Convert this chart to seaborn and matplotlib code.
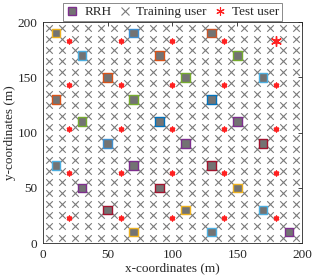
import numpy as np
import pandas as pd
import matplotlib
matplotlib.use('Agg')
import matplotlib.pyplot as plt
from matplotlib.lines import Line2D
import seaborn as sns

# RRH positions (m) and edge colours
rrh_x = [10, 70, 130, 30, 90, 150, 50, 110, 170, 10, 70, 130, 30, 90, 150,
         50, 110, 170, 10, 70, 130, 30, 90, 150, 50, 110, 170, 70, 130, 190]
rrh_y = [190, 190, 190, 170, 170, 170, 150, 150, 150, 130, 130, 130, 110, 110, 110,
         90, 90, 90, 70, 70, 70, 50, 50, 50, 30, 30, 30, 10, 10, 10]
rrh_cor = ['#EDB120', '#3F8FD0', '#C8552A', '#4DAEE0', '#D95319', '#77AC30',
           '#D95319', '#77AC30', '#4DAEE0', '#D95319', '#77AC30', '#0072BD',
           '#77AC30', '#0072BD', '#7E2F8E', '#3F8FD0', '#7E2F8E', '#A2142F',
           '#4DAEE0', '#7E2F8E', '#A2142F', '#7E2F8E', '#A2142F', '#EDB120',
           '#A2142F', '#EDB120', '#4DAEE0', '#EDB120', '#4DAEE0', '#7E2F8E']

# training users: regular grid
treino_x = [5, 15, 25, 35, 45, 55, 65, 75, 85, 95, 105, 115, 125, 135, 145,
            155, 165, 175, 185, 195]
treino_y = [5, 15, 25, 35, 45, 55, 65, 75, 85, 95, 105, 115, 125, 135, 145,
            155, 165, 175, 185, 195]

# test users
teste_x = [20, 60, 100, 140, 180]
teste_y = [183, 143, 103, 63, 23]
destaque = (180, 183)

gx, gy = np.meshgrid(treino_x, treino_y)
df_treino = pd.DataFrame({'x': gx.ravel(), 'y': gy.ravel()})
tx, ty = np.meshgrid(teste_x, teste_y)
df_teste = pd.DataFrame({'x': tx.ravel(), 'y': ty.ravel()})
df_rrh = pd.DataFrame({'x': rrh_x, 'y': rrh_y})

sns.set_theme(style='white')
plt.rcParams['font.family'] = ['Liberation Serif', 'DejaVu Serif']
plt.rcParams['font.size'] = 9.5

fig = plt.figure(figsize=(3.33, 2.8), dpi=100)
ax = fig.add_axes([0.129, 0.132, 0.778, 0.789])

sns.scatterplot(data=df_treino, x='x', y='y', marker='x', color='#7a7a7a',
                s=22, linewidth=0.8, ax=ax, zorder=2)
sns.scatterplot(data=df_teste, x='x', y='y', marker=(6, 2, 0), color='#ff2020',
                s=10, linewidth=1.2, ax=ax, zorder=3)
ax.scatter([destaque[0]], [destaque[1]], marker=(6, 2, 0), color='#ff2020',
           s=50, linewidth=1.0, zorder=4)
sns.scatterplot(data=df_rrh, x='x', y='y', marker='s', color='#737373',
                edgecolor=rrh_cor, s=38, linewidth=1.0, ax=ax, zorder=5)

ax.set_xlim(0, 200)
ax.set_ylim(0, 200)
ax.set_xticks([0, 50, 100, 150, 200])
ax.set_yticks([0, 50, 100, 150, 200])
ax.tick_params(direction='in', length=3, width=0.6, top=True, right=True,
               labelsize=9.5, pad=4, colors='#262626')
for s in ax.spines.values():
    s.set_linewidth(0.6)
    s.set_color('#262626')
ax.set_xlabel('x-coordinates (m)', fontsize=9.5, labelpad=1)
ax.set_ylabel('y-coordinates (m)', fontsize=9.5, labelpad=1)

handles = [
    Line2D([], [], marker='s', ls='', color='#737373', markeredgecolor='#7E2F8E',
           markersize=6, markeredgewidth=1.0, label='RRH'),
    Line2D([], [], marker='x', ls='', color='#7a7a7a', markersize=6,
           markeredgewidth=0.8, label='Training user'),
    Line2D([], [], marker=(6, 2, 0), ls='', color='#ff2020', markersize=6,
           markeredgewidth=0.8, label='Test user'),
]
leg = ax.legend(handles=handles, loc='lower center', bbox_to_anchor=(0.5, 1.0),
                ncol=3, fontsize=9.5, frameon=True, fancybox=False,
                handlelength=1.0, handletextpad=0.4, columnspacing=0.5,
                borderpad=0.2, borderaxespad=0.1)
leg.get_frame().set_edgecolor('#555555')
leg.get_frame().set_linewidth(0.6)

fig.savefig('out.png', dpi=100)
